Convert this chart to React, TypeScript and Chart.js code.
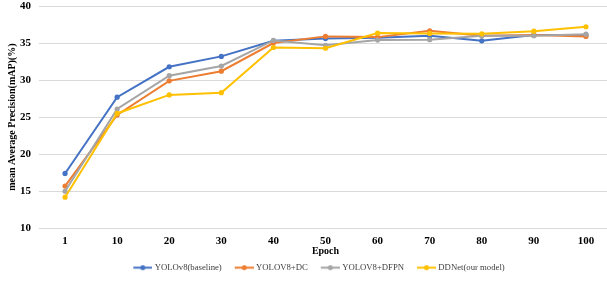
import React, { useEffect, useRef } from 'react';
import { Chart, registerables } from 'chart.js';

Chart.register(...registerables);

const epochs = ['1', '10', '20', '30', '40', '50', '60', '70', '80', '90', '100'];
const yolov8Baseline = [17.4, 27.7, 31.8, 33.2, 35.3, 35.6, 35.7, 36.0, 35.3, 36.1, 36.1];
const yolov8DC = [15.7, 25.3, 29.9, 31.2, 35.0, 35.9, 35.8, 36.65, 36.0, 36.1, 35.9];
const yolov8DFPN = [15.0, 26.1, 30.6, 31.9, 35.35, 34.7, 35.4, 35.45, 36.0, 36.0, 36.2];
const ddnet = [14.2, 25.5, 28.0, 28.3, 34.4, 34.3, 36.35, 36.3, 36.25, 36.6, 37.2];
const seriesNames = ['YOLOv8(baseline)', 'YOLOV8+DC', 'YOLOV8+DFPN', 'DDNet(our model)'];
const seriesColors = ['#4472C4', '#ED7D31', '#A5A5A5', '#FFC000'];
const yMin = 10;
const yMax = 40;
const yStep = 5;

const FONT = '"Liberation Serif", "Times New Roman", serif';

function makeMarker(color: string): HTMLCanvasElement {
  const c = document.createElement('canvas');
  c.width = 30;
  c.height = 7;
  const ctx = c.getContext('2d')!;
  ctx.strokeStyle = color;
  ctx.lineWidth = 2;
  ctx.beginPath();
  ctx.moveTo(11, 3.5);
  ctx.lineTo(30, 3.5);
  ctx.stroke();
  ctx.fillStyle = color;
  ctx.beginPath();
  ctx.arc(20.5, 3.5, 2.5, 0, Math.PI * 2);
  ctx.fill();
  return c;
}

const shiftLegend = {
  id: 'shiftLegend',
  afterLayout(chart: any) {
    if (chart.legend) {
      chart.legend.left -= 11;
      chart.legend.right -= 11;
    }
  },
};

export default function App() {
  const ref = useRef<HTMLCanvasElement>(null);

  useEffect(() => {
    if (!ref.current) return;
    const allData = [yolov8Baseline, yolov8DC, yolov8DFPN, ddnet];
    const markers = seriesColors.map(makeMarker);
    const chart = new Chart(ref.current, {
      type: 'line',
      data: {
        labels: epochs,
        datasets: allData.map((d, i) => ({
          label: seriesNames[i],
          data: d,
          borderColor: seriesColors[i],
          backgroundColor: seriesColors[i],
          borderWidth: 2,
          pointRadius: 2.6,
          pointBorderWidth: 0,
          pointBackgroundColor: seriesColors[i],
          tension: 0,
          order: 3 - i,
        })),
      },
      options: {
        animation: false,
        responsive: false,
        layout: { padding: { top: 6, left: 0, right: 0, bottom: 0 } },
        plugins: {
          tooltip: { enabled: false },
          legend: {
            position: 'bottom',
            fullSize: false,
            labels: {
              usePointStyle: true,
              pointStyleWidth: 26,
              padding: 4,
              color: '#404040',
              font: { family: FONT, size: 8.7 },
              generateLabels: (ch: any) =>
                ch.data.datasets.map((ds: any, i: number) => ({
                  text: ds.label,
                  fillStyle: seriesColors[i],
                  strokeStyle: seriesColors[i],
                  lineWidth: 0,
                  pointStyle: markers[i],
                  datasetIndex: i,
                  hidden: false,
                  fontColor: '#404040',
                })),
            },
          },
        },
        scales: {
          x: {
            type: 'category',
            offset: true,
            grid: { display: false, drawTicks: false },
            border: { display: false },
            ticks: {
              padding: 6,
              color: '#000',
              font: { family: FONT, size: 11, weight: 'bold' },
              maxRotation: 0,
              autoSkip: false,
            },
            title: {
              display: true,
              text: 'Epoch',
              color: '#000',
              font: { family: FONT, size: 10, weight: 'bold' },
              padding: { top: 0, bottom: 2 },
            },
            afterFit: (s: any) => {
              s.height = 31;
            },
          },
          y: {
            min: yMin,
            max: yMax,
            grid: { color: '#D9D9D9', lineWidth: 1, drawTicks: false },
            border: { display: false },
            ticks: {
              stepSize: yStep,
              padding: 8,
              color: '#000',
              font: { family: FONT, size: 11, weight: 'bold' },
            },
            title: {
              display: true,
              text: 'mean Average Precision(mAP)(%)',
              color: '#000',
              font: { family: FONT, size: 10, weight: 'bold' },
              padding: { top: 6, bottom: 0 },
            },
            afterFit: (s: any) => {
              s.width = 39;
              s.paddingTop = 0;
              s.paddingBottom = 0;
            },
          },
        },
      },
      plugins: [shiftLegend],
    } as any);
    return () => chart.destroy();
  }, []);

  return (
    <div
      style={{
        position: 'absolute',
        left: 0,
        top: 0,
        width: 607,
        height: 282,
        overflow: 'hidden',
        background: '#fff',
      }}
    >
      <canvas ref={ref} width={616} height={282} style={{ display: 'block' }} />
    </div>
  );
}
